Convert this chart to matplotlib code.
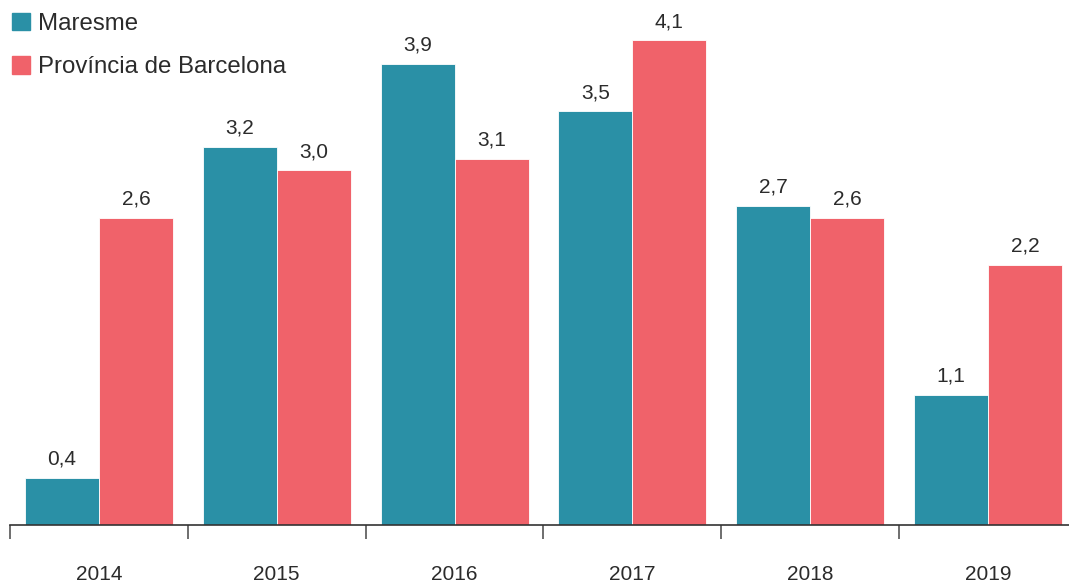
import numpy as np
import matplotlib
matplotlib.use("Agg")
import matplotlib.pyplot as plt
import matplotlib.patches as mpatches

plt.rcParams["font.family"] = ["Liberation Sans", "DejaVu Sans"]

years     = ["2014", "2015", "2016", "2017", "2018", "2019"]
maresme   = [0.4, 3.2, 3.9, 3.5, 2.7, 1.1]
barcelona = [2.6, 3.0, 3.1, 4.1, 2.6, 2.2]
series_names = ["Maresme", "Província de Barcelona"]

TEAL = "#2A90A6"
RED  = "#F0626A"
TXT  = "#2b2b2b"

fig = plt.figure(figsize=(10.69, 5.86), dpi=100)
# l'axe déborde un peu à droite, comme dans l'original
ax = fig.add_axes([10 / 1069, 61 / 586, 1067 / 1069, 525 / 586])

x = np.arange(len(years))
w = 148 / 177.8 / 2

b1 = ax.bar(x - w / 2, maresme, width=w, color=TEAL, edgecolor="white", linewidth=0.6)
b2 = ax.bar(x + w / 2, barcelona, width=w, color=RED, edgecolor="white", linewidth=0.6)

for bars, vals in ((b1, maresme), (b2, barcelona)):
    for r, v in zip(bars, vals):
        ax.annotate(f"{v:.1f}".replace(".", ","),
                    (r.get_x() + r.get_width() / 2, v),
                    xytext=(0, 6.5), textcoords="offset points",
                    ha="center", va="bottom", fontsize=15, color=TXT)

ax.set_xlim(-0.5, len(years) - 0.5)
ax.set_ylim(0, 525 / 118.2)

ax.set_xticks(x)
ax.set_xticklabels(years, fontsize=15, color=TXT)
ax.tick_params(axis="x", which="major", length=0, pad=29)
ax.set_xticks(np.arange(len(years) + 1) - 0.5, minor=True)
ax.tick_params(axis="x", which="minor", length=10, width=1.2, color="#555555")
ax.set_yticks([])

for s in ["top", "right", "left"]:
    ax.spines[s].set_visible(False)
ax.spines["bottom"].set_color("#333333")
ax.spines["bottom"].set_linewidth(1.2)

handles = [mpatches.Patch(color=TEAL, label=series_names[0]),
           mpatches.Patch(color=RED, label=series_names[1])]
leg = fig.legend(handles=handles, loc="upper left",
                 bbox_to_anchor=(12 / 1069, 1 - 12.5 / 586),
                 frameon=False, fontsize=17.3, handlelength=0.75, handleheight=0.75,
                 handletextpad=0.33, labelspacing=0.9, borderpad=0, borderaxespad=0)
for t in leg.get_texts():
    t.set_color(TXT)

fig.savefig("out.png", dpi=100)
